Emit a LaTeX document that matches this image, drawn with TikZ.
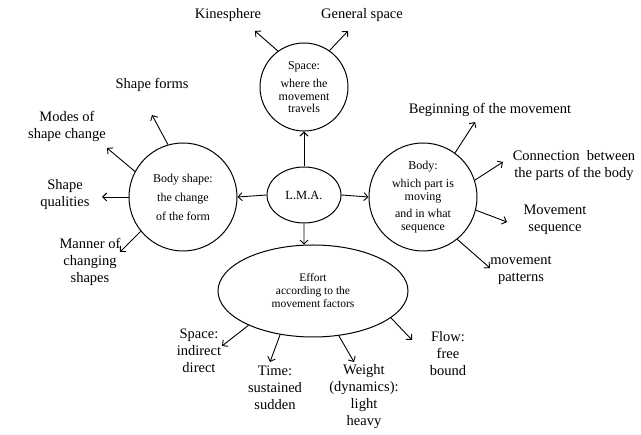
\documentclass[tikz,border=0pt]{standalone}
\usepackage{fontspec}
\setmainfont{Liberation Serif}
\usetikzlibrary{arrows.meta,shapes.geometric}

\tikzset{
	lab/.style={align=center, inner sep=0pt, font=\fontsize{14.5}{17}\selectfont},
	bubble/.style={draw, circle, line width=1pt, inner sep=0pt, align=center},
	oval/.style={draw, ellipse, line width=1pt, inner sep=0pt, align=center},
	arr/.style={-{Straight Barb[length=4pt,width=8pt]}, line width=0.9pt}
}

\begin{document}
\begin{tikzpicture}[x=1pt, y=-1pt]
	\useasboundingbox (0,0) rectangle (641,435);

	% Kreise
	\node[oval, minimum width=74pt, minimum height=56pt, font=\fontsize{12.5}{14}\selectfont]
		(lma) at (304,195) {L.M.A.};
	\node[bubble, minimum size=88pt, font=\fontsize{12}{12.5}\selectfont]
		(space) at (304,87) {Space:\\[6pt] where the\\ movement\\ travels};
	\node[bubble, minimum size=108pt, font=\fontsize{12}{19}\selectfont]
		(bshape) at (183,197) {Body shape:\\ the change\\ of the form};
	\node[bubble, minimum size=108pt, font=\fontsize{12}{13}\selectfont]
		(body) at (423,197) {Body:\\[5pt] which part is\\ moving\\[4pt] and in what\\ sequence};
	\node[oval, minimum width=190pt, minimum height=92pt, font=\fontsize{11.5}{13}\selectfont]
		(effort) at (313,291) {Effort\\ according to the\\ movement factors};

	% Pfeile vom Zentrum
	\draw[arr] (lma.north) -- (space.south);
	\draw[arr] (lma.west) -- (bshape.east);
	\draw[arr] (lma.east) -- (body.west);
	\draw[arr] (lma.south) -- (effort.101);

	% Beschriftungen
	\node[lab] (kine) at (228,15) {Kinesphere};
	\node[lab] (gen) at (362,15) {General space};
	\node[lab] (sforms) at (152,85) {Shape forms};
	\node[lab] (modes) at (67,126) {Modes of\\ shape change};
	\node[lab] (qual) at (65,195) {Shape\\ qualities};
	\node[lab] (manner) at (90,262) {Manner of\\ changing\\ shapes};
	\node[lab] (begin) at (490,110) {Beginning of the movement};
	\node[lab] (conn) at (574,166) {Connection~~between\\ the parts of the body};
	\node[lab] (seq) at (555,220) {Movement\\ sequence};
	\node[lab] (patt) at (521,270) {movement\\ patterns};
	\node[lab] (espace) at (199,351) {Space:\\ indirect\\ direct};
	\node[lab] (time) at (275,388) {Time:\\ sustained\\ sudden};
	\node[lab] (weight) at (364,397) {Weight\\ (dynamics):\\ light\\ heavy};
	\node[lab] (flow) at (448,354) {Flow:\\ free\\ bound};

	% Pfeilspitzen
	\coordinate (tkine) at (255,31);
	\coordinate (tgen) at (348,31);
	\coordinate (tsforms) at (152,115);
	\coordinate (tmodes) at (107,148);
	\coordinate (tqual) at (102,197);
	\coordinate (tmanner) at (120,252);
	\coordinate (tbegin) at (475,122);
	\coordinate (tconn) at (503,162);
	\coordinate (tseq) at (507,222);
	\coordinate (tpatt) at (490,268);
	\coordinate (tespace) at (222,346);
	\coordinate (ttime) at (270,362);
	\coordinate (tweight) at (354,362);
	\coordinate (tflow) at (412,340);

	% Pfeile nach aussen
	\foreach \n/\a/\t in {space/126/tkine, space/55/tgen,
		bshape/106/tsforms, bshape/152/tmodes, bshape/180/tqual, bshape/219/tmanner,
		body/54/tbegin, body/18/tconn, body/-14/tseq, body/-51/tpatt,
		effort/208/tespace, effort/233/ttime, effort/-60/tweight, effort/-19/tflow}
		\draw[arr] (\n.\a) -- (\t);
\end{tikzpicture}
\end{document}
